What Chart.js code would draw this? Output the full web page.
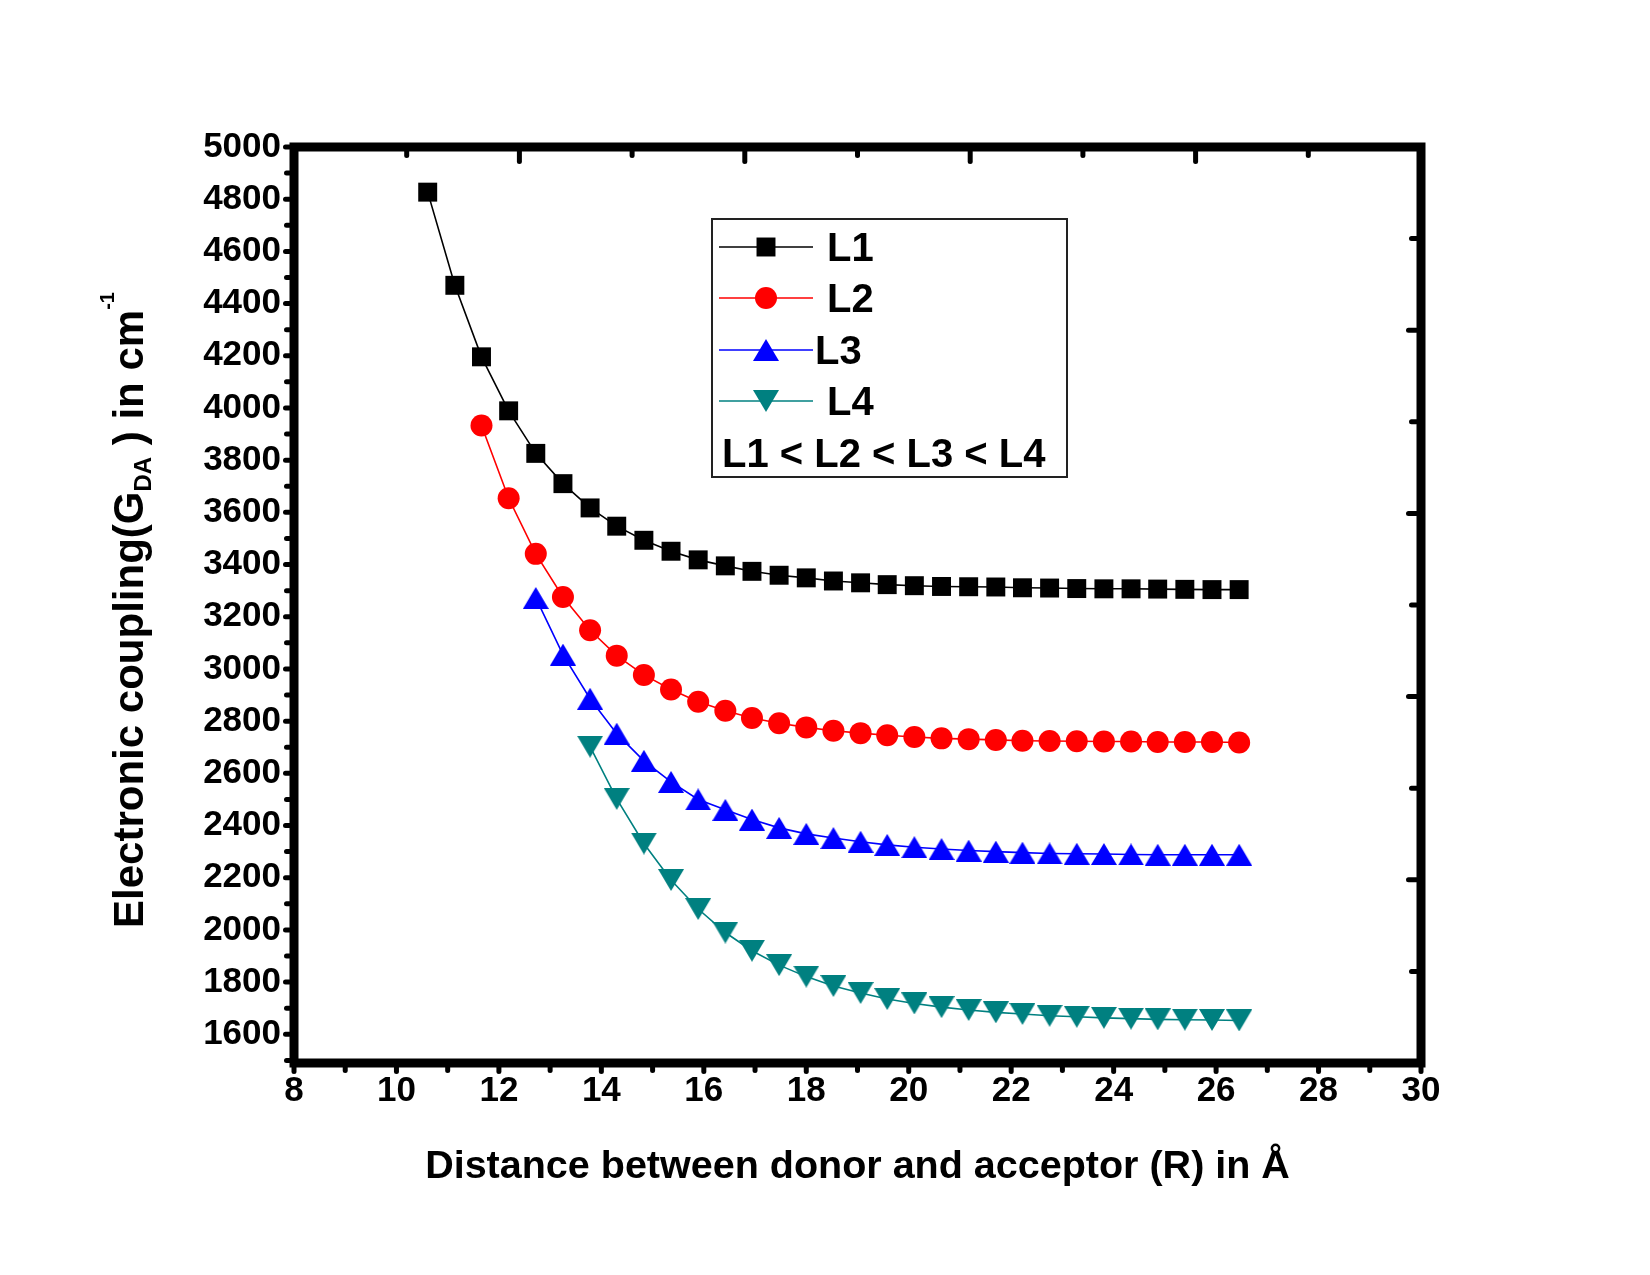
<!DOCTYPE html>
<html>
<head>
<meta charset="utf-8">
<script src="https://cdn.jsdelivr.net/npm/chart.js@4.4.1/dist/chart.umd.min.js"></script>
<style>
  html, body { margin: 0; padding: 0; background: #fff; }
  #wrap { width: 1650px; height: 1275px; position: relative; }
</style>
</head>
<body>
<div id="wrap"><canvas id="chartCoupling"></canvas></div>
<script>
// donor-acceptor distance (Å), shared by all series
const R = [10.61, 11.14, 11.66, 12.19, 12.72, 13.25, 13.78, 14.30, 14.83, 15.36,
  15.89, 16.42, 16.94, 17.47, 18.00, 18.53, 19.06, 19.58, 20.11, 20.64,
  21.17, 21.70, 22.22, 22.75, 23.28, 23.81, 24.34, 24.86, 25.39, 25.92, 26.45];

// electronic coupling G_DA (cm-1)
const L1 = [4827, 4470, 4196, 3989, 3826, 3710, 3617, 3547, 3493, 3451,
  3418, 3395, 3374, 3359, 3349, 3337, 3330, 3323, 3319, 3316,
  3315, 3314, 3311, 3310, 3308, 3307, 3307, 3306, 3305, 3304, 3304];
const L2 = [3933, 3654, 3441, 3276, 3148, 3051, 2977, 2921, 2874, 2840,
  2812, 2792, 2776, 2763, 2754, 2746, 2739, 2734, 2731, 2728,
  2725, 2724, 2723, 2722, 2722, 2720, 2720, 2720, 2718];
const L3 = [3272, 3055, 2886, 2752, 2648, 2567, 2500, 2460, 2423, 2391,
  2368, 2352, 2338, 2326, 2317, 2310, 2304, 2300, 2296, 2293,
  2292, 2291, 2289, 2288, 2288, 2288, 2288];
const L4 = [2702, 2502, 2331, 2191, 2080, 1990, 1920, 1865, 1821, 1785,
  1758, 1735, 1718, 1704, 1693, 1684, 1678, 1671, 1667, 1663,
  1660, 1657, 1656, 1655, 1653];

const NAMES = ['L1', 'L2', 'L3', 'L4'];
const START = [0, 2, 4, 6];   // index into R where each series begins
const X_TICKS = [8, 10, 12, 14, 16, 18, 20, 22, 24, 26, 28, 30];
const Y_TICKS = [1600, 1800, 2000, 2200, 2400, 2600, 2800, 3000, 3200,
  3400, 3600, 3800, 4000, 4200, 4400, 4600, 4800, 5000];
const ORDER_NOTE = 'L1 < L2 < L3 < L4';

const FONT = '"Liberation Sans", Arial, sans-serif';
Chart.defaults.font.family = FONT;
Chart.defaults.color = '#000';

function pairs(ys, start) {
  return ys.map((y, i) => ({ x: R[start + i], y: y }));
}

// Origin centres its triangles on the bounding box, so build them as little canvases
function triangleSymbol(color, down) {
  const w = 26, h = 22;
  const c = document.createElement('canvas');
  c.width = w; c.height = h;
  const g = c.getContext('2d');
  g.fillStyle = color;
  g.beginPath();
  if (down) {
    g.moveTo(0, 0); g.lineTo(w, 0); g.lineTo(w / 2, h);
  } else {
    g.moveTo(0, h); g.lineTo(w, h); g.lineTo(w / 2, 0);
  }
  g.closePath();
  g.fill();
  return c;
}

const STYLES = [
  { color: '#000000', pointStyle: 'rect', radius: 13.4 },
  { color: '#ff0000', pointStyle: 'circle', radius: 11 },
  { color: '#0000ff', pointStyle: triangleSymbol('#0000ff', false), radius: 13 },
  { color: '#008080', pointStyle: triangleSymbol('#008080', true), radius: 13 }
];

const datasets = [L1, L2, L3, L4].map((ys, k) => ({
  label: NAMES[k],
  data: pairs(ys, START[k]),
  showLine: true,
  borderColor: STYLES[k].color,
  borderWidth: 1.6,
  pointStyle: STYLES[k].pointStyle,
  pointRadius: STYLES[k].radius,
  pointBackgroundColor: STYLES[k].color,
  pointBorderColor: STYLES[k].color,
  pointBorderWidth: 0
}));

// thick frame plus Origin-style ticks (outer on left/bottom, inner on top/right)
const framePlugin = {
  id: 'frame',
  afterDatasetsDraw(chart) {
    const { ctx, chartArea: a, scales } = chart;
    const half = 4.5;
    ctx.save();
    ctx.strokeStyle = '#000';
    ctx.lineWidth = 9;
    ctx.lineJoin = 'miter';
    ctx.strokeRect(a.left, a.top, a.right - a.left, a.bottom - a.top);

    ctx.lineWidth = 5;
    ctx.lineCap = 'round';
    const seg = (x1, y1, x2, y2) => {
      ctx.beginPath(); ctx.moveTo(x1, y1); ctx.lineTo(x2, y2); ctx.stroke();
    };
    for (let v = 1500; v <= 5000; v += 100) {
      const y = scales.y.getPixelForValue(v);
      seg(a.left - half, y, a.left - half - (v % 200 === 0 ? 4 : 3), y);
    }
    for (let v = 8; v <= 30; v += 1) {
      const x = scales.x.getPixelForValue(v);
      seg(x, a.bottom + half, x, a.bottom + half + (v % 2 === 0 ? 4 : 3));
    }
    for (let i = 1; i < 10; i++) {
      const x = a.left + (a.right - a.left) * i / 10;
      seg(x, a.top + half, x, a.top + half + (i % 2 === 0 ? 10 : 4));
      const y = a.top + (a.bottom - a.top) * i / 10;
      seg(a.right - half, y, a.right - half - (i % 2 === 0 ? 8 : 5), y);
    }
    ctx.restore();
  }
};

// boxed legend inside the plot and the rotated y title with sub/superscript
const legendPlugin = {
  id: 'boxLegend',
  afterDraw(chart) {
    const ctx = chart.ctx;
    ctx.save();
    ctx.strokeStyle = '#222';
    ctx.lineWidth = 2;
    ctx.strokeRect(712, 219, 355, 258);

    const rows = [247, 298, 350, 401];
    const textX = [827, 827, 815, 827];
    ctx.font = 'bold 40px ' + FONT;
    ctx.textBaseline = 'alphabetic';
    chart.data.datasets.forEach((ds, k) => {
      const y = rows[k];
      ctx.strokeStyle = ds.borderColor;
      ctx.lineWidth = 1.6;
      ctx.beginPath(); ctx.moveTo(719, y); ctx.lineTo(813, y); ctx.stroke();
      ctx.fillStyle = ds.pointBackgroundColor;
      Chart.helpers.drawPoint(ctx, {
        pointStyle: ds.pointStyle, rotation: 0,
        radius: ds.pointRadius, borderWidth: 0
      }, 766, y);
      ctx.fillStyle = '#000';
      ctx.fillText(ds.label, textX[k], y + 14);
    });
    ctx.fillText(ORDER_NOTE, 722, 453 + 14);

    // y axis title
    const parts = [
      { t: 'Electronic coupling(G', size: 42, dy: 0 },
      { t: 'DA', size: 24, dy: 8 },
      { t: ' ) in cm', size: 42, dy: 0 },
      { t: '-1', size: 20, dy: -29 }
    ];
    let total = 0;
    parts.forEach(p => {
      ctx.font = 'bold ' + p.size + 'px ' + FONT;
      p.w = ctx.measureText(p.t).width;
      total += p.w;
    });
    ctx.translate(128, 610);
    ctx.rotate(-Math.PI / 2);
    let x = -total / 2;
    parts.forEach(p => {
      ctx.font = 'bold ' + p.size + 'px ' + FONT;
      ctx.fillText(p.t, x, 15 + p.dy);
      x += p.w;
    });
    ctx.restore();
  }
};

new Chart(document.getElementById('chartCoupling'), {
  type: 'scatter',
  data: { datasets: datasets },
  options: {
    responsive: true,
    maintainAspectRatio: false,
    devicePixelRatio: 1,
    animation: false,
    events: [],
    layout: { padding: { left: 0, top: 147, right: 229, bottom: 0 } },
    plugins: { legend: { display: false }, tooltip: { enabled: false } },
    scales: {
      x: {
        type: 'linear',
        min: 8,
        max: 30,
        afterBuildTicks: (s) => { s.ticks = X_TICKS.map(v => ({ value: v })); },
        afterFit: (s) => { s.height = 212; },
        grid: { display: false, drawTicks: false },
        border: { display: false },
        ticks: { font: { size: 35, weight: 'bold' }, padding: 7, maxRotation: 0, autoSkip: false,
          callback: (v) => String(v) },
        title: {
          display: true,
          text: 'Distance between donor and acceptor (R) in Å',
          font: { size: 39.5, weight: 'bold' },
          padding: { top: 0, bottom: 84 }
        }
      },
      y: {
        type: 'linear',
        min: 1490,
        max: 5000,
        afterBuildTicks: (s) => { s.ticks = Y_TICKS.map(v => ({ value: v })); },
        afterFit: (s) => { s.width = 294; },
        grid: { display: false, drawTicks: false },
        border: { display: false },
        ticks: { font: { size: 35, weight: 'bold' }, padding: 13, autoSkip: false,
          callback: (v) => String(v) }
      }
    }
  },
  plugins: [framePlugin, legendPlugin]
});
</script>
</body>
</html>
